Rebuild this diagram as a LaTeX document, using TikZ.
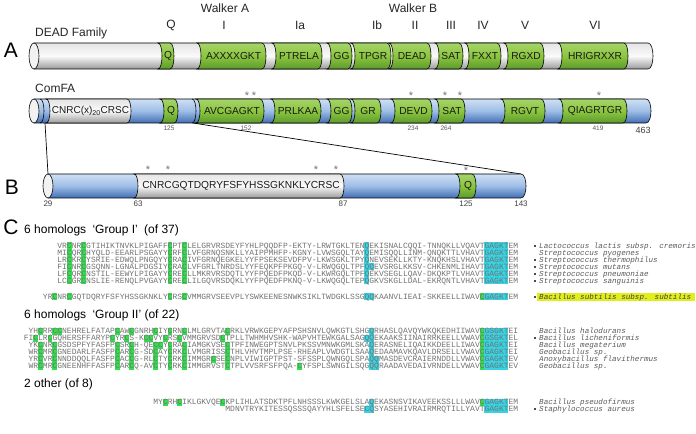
\documentclass[tikz,border=0pt]{standalone}
\usepackage{fontspec}
\setmainfont{Liberation Sans}
\newfontfamily\seqfont{Liberation Mono}
\definecolor{hlG}{HTML}{33DD4E}
\definecolor{hlC}{HTML}{36D3E3}
\definecolor{yel}{HTML}{E2EE1C}
\definecolor{seqtxt}{HTML}{737373}
\definecolor{sptxt}{HTML}{5A5A5A}
\definecolor{gTop}{HTML}{A5D46A}
\definecolor{gMid}{HTML}{8CC63F}
\definecolor{gBot}{HTML}{5C9A2C}
\definecolor{bTop}{HTML}{CFE0F4}
\definecolor{bMid}{HTML}{9EBDE6}
\definecolor{bBot}{HTML}{3F6DB3}
\definecolor{kTop}{HTML}{E4E4E4}
\definecolor{kMid}{HTML}{FAFAFA}
\definecolor{kBot}{HTML}{9A9A9A}
\tikzset{
 outl/.style={draw=black, line width=0.6bp},
 grayfill/.style={outl, top color=kTop, bottom color=kBot, middle color=kMid},
 bluefill/.style={outl, top color=bTop, bottom color=bBot, middle color=bMid},
 greenfill/.style={outl, top color=gTop, bottom color=gBot, middle color=gMid},
 lbl/.style={font=\fontsize{12bp}{14bp}\selectfont, inner sep=0pt, text=black!85},
 seglbl/.style={font=\fontsize{10.2bp}{12bp}\selectfont, inner sep=0pt, text=black!90},
 tnum/.style={font=\fontsize{6.5bp}{7bp}\selectfont, inner sep=0pt, text=black!65},
 bnum/.style={font=\fontsize{8bp}{9bp}\selectfont, inner sep=0pt, text=black!75},
 ast/.style={font=\fontsize{11bp}{11bp}\selectfont, inner sep=0pt, text=black!55, anchor=base},
 panel/.style={font=\fontsize{21bp}{24bp}\selectfont, inner sep=0pt},
 seq/.style={font=\seqfont\fontsize{8bp}{9bp}\selectfont, inner sep=0pt, anchor=base west, text=seqtxt},
 spec/.style={font=\seqfont\itshape\fontsize{7.6bp}{9bp}\selectfont, inner sep=0pt, anchor=base west, text=sptxt},
 hdr/.style={font=\fontsize{12bp}{14bp}\selectfont, inner sep=0pt, anchor=west},
 zline/.style={draw=black, line width=0.7bp},
 bul/.style={fill=black!70, minimum size=2.2bp, inner sep=0pt, rectangle},
}
\newcommand\cseg[5]{\path[#1] ({#2-4},#4) .. controls ({#2+1.33},#4) and ({#2+1.33},#5) .. ({#2-4},#5) -- ({#3-4},#5) .. controls ({#3+1.33},#5) and ({#3+1.33},#4) .. ({#3-4},#4) -- cycle;}
\newcommand\cbody[5]{\path[#1] (#2,#4) -- ({#3-5},#4) .. controls ({#3+1.67},#4) and ({#3+1.67},#5) .. ({#3-5},#5) -- (#2,#5) -- cycle;}
\newcommand\carc[3]{\draw[outl] ({#1-4},#2) .. controls ({#1+1.33},#2) and ({#1+1.33},#3) .. ({#1-4},#3);}
\newcommand\hlbox[4]{\foreach \i in {#4}{\fill[#1] ({#2+\i*4.8},{#3-3.5}) rectangle ({#2+\i*4.8+4.8},{#3+3.5});}}
\begin{document}
\begin{tikzpicture}[x=1bp,y=-1bp]
\useasboundingbox (0,0) rectangle (696,434);
\fill[white] (0,0) rectangle (696,434);
% ---------- panel A labels
\node[lbl] (wA) at (225,8) {Walker A};
\node[lbl] (wB) at (413,8) {Walker B};
\node[lbl] (mQ) at (171,25) {Q};
\node[lbl] (m1) at (224,25) {I};
\node[lbl] (m1a) at (300,25) {Ia};
\node[lbl] (m1b) at (377,25) {Ib};
\node[lbl] (m2) at (415,25) {II};
\node[lbl] (m3) at (451,25) {III};
\node[lbl] (m4) at (483,25) {IV};
\node[lbl] (m5) at (525,25) {V};
\node[lbl] (m6) at (595,25) {VI};
\node[panel] (pA) at (11,50) {A};
\node[lbl,anchor=west] (dead) at (35,33) {DEAD Family};
\node[lbl,anchor=west] (comfa) at (35,88) {ComFA};
% ---------- DEAD bar
\cbody{grayfill}{34}{653}{43}{69}
\cseg{greenfill}{162}{174}{43}{69}
\cseg{greenfill}{201}{266}{43}{69}
\cseg{greenfill}{276}{322}{43}{69}
\cseg{greenfill}{331}{352}{43}{69}
\cseg{greenfill}{355}{391}{43}{69}
\cseg{greenfill}{393}{431}{43}{69}
\cseg{greenfill}{439}{463}{43}{69}
\cseg{greenfill}{469}{501}{43}{69}
\cseg{greenfill}{508}{544}{43}{69}
\cseg{greenfill}{562}{628}{43}{69}
\draw[outl, fill=white!95!black] (34,56) ellipse [x radius=5, y radius=13];
\node[seglbl] (d1) at (168,56) {Q};
\node[seglbl] (d2) at (233.5,56) {AXXXXGKT};
\node[seglbl] (d3) at (299,56) {PTRELA};
\node[seglbl] (d4) at (341.5,56) {GG};
\node[seglbl] (d5) at (373,56) {TPGR};
\node[seglbl] (d6) at (412,56) {DEAD};
\node[seglbl] (d7) at (451,56) {SAT};
\node[seglbl] (d8) at (485,56) {FXXT};
\node[seglbl] (d9) at (526,56) {RGXD};
\node[seglbl] (d10) at (595,56) {HRIGRXXR};
% ---------- ComFA bar
\coordinate (zA1) at (45,123);
\coordinate (zA2) at (193,123);
\coordinate (zB1) at (48,174);
\coordinate (zB2) at (521,174);
\draw[zline] (zA1) -- (zB1);
\draw[zline] (zA2) -- (zB2);
\cbody{bluefill}{34}{651}{99}{123}
\carc{44}{99}{123}
\cseg{grayfill}{50}{131}{99}{123}
\cseg{greenfill}{164}{178}{99}{123}
\carc{196}{99}{123}
\cseg{greenfill}{200}{264}{99}{123}
\cseg{greenfill}{275}{321}{99}{123}
\cseg{greenfill}{331}{352}{99}{123}
\cseg{greenfill}{355}{381}{99}{123}
\cseg{greenfill}{395}{432}{99}{123}
\cseg{greenfill}{439}{465}{99}{123}
\cseg{greenfill}{505}{545}{99}{123}
\cseg{greenfill}{563}{627}{99}{123}
\draw[outl, fill=white!95!black] (34,111) ellipse [x radius=5, y radius=12];
\node[seglbl,font=\fontsize{10bp}{12bp}\selectfont] (c0) at (90.5,111) {CNRC(x)\textsubscript{20}CRSC};
\node[seglbl] (c1) at (171,111) {Q};
\node[seglbl] (c2) at (232,111) {AVCGAGKT};
\node[seglbl] (c3) at (298,111) {PRLKAA};
\node[seglbl] (c4) at (341.5,111) {GG};
\node[seglbl] (c5) at (368,111) {GR};
\node[seglbl] (c6) at (413.5,111) {DEVD};
\node[seglbl] (c7) at (452,111) {SAT};
\node[seglbl] (c8) at (525,111) {RGVT};
\node[seglbl] (c9) at (595,111) {QIAGRTGR};
\node[ast] (ca1) at (247,99.4) {*};
\node[ast] (ca2) at (254,99.4) {*};
\node[ast] (ca3) at (411,99.4) {*};
\node[ast] (ca4) at (445,99.4) {*};
\node[ast] (ca5) at (460,99.4) {*};
\node[ast] (ca6) at (599,99.4) {*};
\node[tnum] (n125) at (169,128.5) {125};
\node[tnum] (n152) at (246,128.5) {152};
\node[tnum] (n234) at (413,128) {234};
\node[tnum] (n264) at (446,128) {264};
\node[tnum] (n419) at (598,128) {419};
\node[bnum,font=\fontsize{9bp}{10bp}\selectfont] (n463) at (643,130) {463};
% ---------- B bar
\node[panel] (pB) at (12,187) {B};
\cbody{bluefill}{48}{526}{174}{198}
\cseg{grayfill}{138}{344}{174}{198}
\cseg{greenfill}{460}{476}{174}{198}
\draw[outl, fill=white!95!black] (48,186) ellipse [x radius=5, y radius=12];
\node[seglbl] (b0) at (241,186) {CNRCGQTDQRYFSFYHSSGKNKLYCRSC};
\node[seglbl] (b1) at (468,186) {Q};
\node[ast] (ba1) at (148,173.4) {*};
\node[ast] (ba2) at (168,173.4) {*};
\node[ast] (ba3) at (316,173.4) {*};
\node[ast] (ba4) at (336,173.4) {*};
\node[ast] (ba5) at (466,174.4) {*};
\node[bnum] (b29) at (48,204) {29};
\node[bnum] (b63) at (138,204) {63};
\node[bnum] (b87) at (343,204) {87};
\node[bnum] (b125) at (466,204) {125};
\node[bnum] (b143) at (521,204) {143};
% ---------- panel C
\node[panel] (pC) at (11,227) {C};
\node[hdr] (h1) at (24,230) {6 homologs\hspace{3bp} ‘Group I’\hspace{3bp} (of 37)};
\node[hdr] (h2) at (24,315) {6 homologs\hspace{3bp} ‘Group II’ (of 22)};
\node[hdr] (h3) at (24,384) {2 other (of 8)};
% group I (len 96, x0 = 57.2)
\hlbox{hlG}{57.2}{246}{2,5,23,26}\hlbox{hlC}{57.2}{246}{64,89,90,91,92,93}
\node[seq] (s1) at (57.2,248.3) {VRCNRCGTIHIKTNVKLPIGAFFCPTCLELGRVRSDEYFYHLPQQDFP-EKTY-LRWTGKLTENQEKISNALCQQI-TNNQKLLVQAVTGAGKTEM};
\hlbox{hlG}{57.2}{253}{2,5,23,26}\hlbox{hlC}{57.2}{253}{64,89,90,91,92,93}
\node[seq] (s2) at (57.2,255.3) {MICQRCHYQLD-EEARLPSGAYYCRFCLVFGRNQSNKLLYAIPPMHFP-KGNY-LVWSGQLTAYQEMISQQLLINM-QNQKTTLVHAVTGAGKTEM};
\hlbox{hlG}{57.2}{260}{2,5,23,26}\hlbox{hlC}{57.2}{260}{64,89,90,91,92,93}
\node[seq] (s3) at (57.2,262.3) {LRCKRCYSRIE-EDWQLPNGQYYCRACIVFGRNQEGKELYYFPSEKSEVDFPV-LKWSGKLTPYQNEVSEKLLKTY-KNQKHSLVHAVTGAGKTEM};
\hlbox{hlG}{57.2}{267}{2,5,23,26}\hlbox{hlC}{57.2}{267}{64,65,89,90,91,92,93}
\node[seq] (s4) at (57.2,269.3) {FICNRCGSQNN-LGNALPDGSIYCRACLVFGRLTNRDSLYYFEQKPFPKGQ-V-LRWQGQLTPFQQEVSRGLKKSV-CHKENMLIHAVTGAGKTEM};
\hlbox{hlG}{57.2}{274}{2,5,23,26}\hlbox{hlC}{57.2}{274}{64,89,90,91,92,93}
\node[seq] (s5) at (57.2,276.3) {LFCQRCNSTIL-EEWYLPIGAYYCRECLLMKRVRSDQTLYYFPQEDFPKQD-V-LKWRGQLTPFQEKVSEGLLQAV-DKQKPTLVHAVTGAGKTEM};
\hlbox{hlG}{57.2}{281}{2,5,23,26}\hlbox{hlC}{57.2}{281}{64,89,90,91,92,93}
\node[seq] (s6) at (57.2,283.3) {LCCGRCNSLIE-RENQLPVGAYYCRECLILGQVRSDQKLYYFPQEDFPKNQ-V-LKWQGQLTEPQGKVSKGLLDAL-EKRQNTLVHAVTGAGKTEM};
% B. subtilis (len 99, x0 = 42.8)
\fill[yel] (537,292.6) rectangle (695,301.4);
\hlbox{hlG}{42.8}{297}{2,5,26,29,91}\hlbox{hlC}{42.8}{297}{67,68,92,93,94,95,96}
\node[seq] (s7) at (42.8,299.3) {YRCNRCGQTDQRYFSFYHSSGKNKLYCRSCVMMGRVSEEVPLYSWKEENESNWKSIKLTWDGKLSSGQQKAANVLIEAI-SKKEELLIWAVCGAGKTEM};
% group II (len 102, x0 = 28.4)
\hlbox{hlG}{28.4}{331}{2,5,6,18,21,26,29,32,41,94}\hlbox{hlC}{28.4}{331}{71,95,96,97,98,99}
\node[seq] (s8) at (28.4,333.3) {YHCRRCCNEHRELFATAPCAWCGNRHCIYCRNCLMLGRVTACRKLVRWKGEPYAFPSHSNVLQWKGTLSHGQRHASLQAVQYWKQKEDHIIWAVCGSGKTEI};
\hlbox{hlG}{23.6}{338}{2,5,18,21,25,26,29,32,41,95}\hlbox{hlC}{23.6}{338}{71,72,96,97,98,99,100}
\node[seq] (s9) at (23.6,340.3) {FICLRCGQHERSFFARYPCYRCS-KCCVYCRSCVMMGRVSDCTPLLTWHMHVSHK-WAPVHTEWKGALSAGQQEKAAKSIINAIRRKEELLVWAVCGSGKTEL};
\hlbox{hlG}{28.4}{345}{2,5,18,21,26,27,29,32,41,94}\hlbox{hlC}{28.4}{345}{71,95,96,97,98,99}
\node[seq] (s10) at (28.4,347.3) {YKCNRCGSDSPFYFASFPCSRCH-QECCYCRACIAMGKVSECTPFINWEGPTSNVLPKSSVMNWKGMLSKAQERASNELIQAIKKDEELLIWAVCGAGKTEI};
\hlbox{hlG}{28.4}{352}{2,5,18,21,26,29,32,41,94}\hlbox{hlC}{28.4}{352}{71,95,96,97,98,99}
\node[seq] (s11) at (28.4,354.3) {WRCMRCGNEDARLFASFPCARCG-SDCAYCRKCLVMGRISSCTHLVHVTMPLPSE-RHEAPLVWDGTLSAAQEDAAMAVKQAVLDRSELLVWAVCGAGKTEI};
\hlbox{hlG}{28.4}{359}{2,5,18,21,26,29,32,38,41,94}\hlbox{hlC}{28.4}{359}{71,72,95,96,97,98,99}
\node[seq] (s12) at (28.4,361.3) {YRCVRCNNDDQQLFASFPCACCG-RLCTYCRKCIMMGRCSECNPLVIWIGPTPST-SFSSPLQWNGQLSPAQQMASDEVCRAIERNDDLLVWAVCGAGKTEV};
\hlbox{hlG}{28.4}{366}{2,5,18,21,26,29,32,41,56,94}\hlbox{hlC}{28.4}{366}{71,72,95,96,97,98,99}
\node[seq] (s13) at (28.4,368.3) {WRCMRCGNEENHFFASFPCARCQ-AVCTYCRKCIMMGRVSTCTPLVVSRFSFPQA-CYFSPLSWNGILSQGQQRAADAVEDAIVRNDELLVWAVCGAGKTEV};
% other
\hlbox{hlG}{153.2}{402}{2,5,14,68}\hlbox{hlC}{153.2}{402}{45,69,70,71,72,73}
\node[seq] (s14) at (153.2,404.3) {MYCRHCIKLGKVQECKPLIHLATSDKTPFLNHSSSLKWKGELSLAQEKASNSVIKAVEEKSSLLLWAVCGAGKTEM};
\hlbox{hlC}{225.2}{409}{29,30,54,55,56,57,58}
\node[seq] (s15) at (225.2,411.3) {MDNVTRYKITESSQSSSQAYYHLSFELSECQSYASEHIVRAIRMRQTILLYAVTGAGKTEM};
% species
\node[bul] (u1) at (535,246) {};
\node[spec] (t1) at (539,248.3) {Lactococcus lactis subsp. cremoris};
\node[spec] (t2) at (539,255.3) {Streptococcus pyogenes};
\node[bul] (u3) at (535,260) {};
\node[spec] (t3) at (539,262.3) {Streptococcus thermophilus};
\node[bul] (u4) at (535,267) {};
\node[spec] (t4) at (539,269.3) {Streptococcus mutans};
\node[bul] (u5) at (535,274) {};
\node[spec] (t5) at (539,276.3) {Streptococcus pneumoniae};
\node[bul] (u6) at (535,281) {};
\node[spec] (t6) at (539,283.3) {Streptococcus sanguinis};
\node[bul] (u7) at (535,297) {};
\node[spec,text=black!75] (t7) at (539,299.3) {Bacillus subtilis subsp. subtilis};
\node[spec] (t8) at (539,333.3) {Bacillus halodurans};
\node[bul] (u9) at (535,338) {};
\node[spec] (t9) at (539,340.3) {Bacillus licheniformis};
\node[spec] (t10) at (539,347.3) {Bacillus megaterium};
\node[spec] (t11) at (539,354.3) {Geobacillus sp.};
\node[spec] (t12) at (539,361.3) {Anoxybacillus flavithermus};
\node[spec] (t13) at (539,368.3) {Geobacillus sp.};
\node[spec] (t14) at (539,404.3) {Bacillus pseudofirmus};
\node[bul] (u15) at (535,409) {};
\node[spec] (t15) at (539,411.3) {Staphylococcus aureus};
\end{tikzpicture}
\end{document}
